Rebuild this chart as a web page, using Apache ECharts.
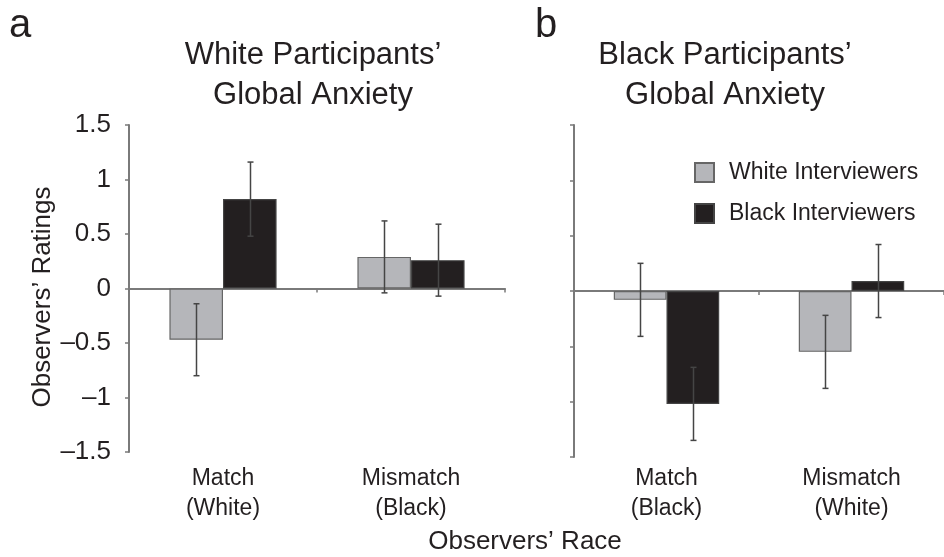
<!DOCTYPE html>
<html>
<head>
<meta charset="utf-8">
<script src="https://cdn.jsdelivr.net/npm/echarts@6/dist/echarts.min.js"></script>
<style>
  html, body { margin: 0; padding: 0; background: #ffffff; }
  #chart { width: 944px; height: 557px; }
</style>
</head>
<body>
<div id="chart"></div>
<script>
// ---- data ----
const categoriesA = ['Match\n(White)', 'Mismatch\n(Black)'];
const categoriesB = ['Match\n(Black)', 'Mismatch\n(White)'];
const seriesNames = ['White Interviewers', 'Black Interviewers'];
const whiteA = [-0.47, 0.29];
const blackA = [0.82, 0.26];
const errWhiteA = [0.33, 0.33];
const errBlackA = [0.34, 0.33];
const whiteB = [-0.08, -0.55];
const blackB = [-1.02, 0.09];
const errWhiteB = [0.33, 0.33];
const errBlackB = [0.33, 0.33];
const yTicks = { min: -1.5, max: 1.5, interval: 0.5 };

const FONT = '"Liberation Sans", Arial, Helvetica, sans-serif';
const TXT = '#231f20';
const AXIS = '#7a7a7a';
const GREY = '#b5b6ba';
const BLACK = '#231f20';
const BAR_FRAC = 0.285;

function errData(vals, errs, side) {
  return vals.map((v, i) => [i, v - errs[i], v + errs[i], side]);
}

function renderErr(params, api) {
  const ci = api.value(0), lo = api.value(1), hi = api.value(2), side = api.value(3);
  const catW = api.size([1, 0])[0];
  const off = side * catW * BAR_FRAC / 2;
  const p1 = api.coord([ci, hi]);
  const p2 = api.coord([ci, lo]);
  const x = Math.round(p1[0] + off) + 0.5;
  const cap = 3;
  const st = { stroke: '#454545', lineWidth: 1.5 };
  return {
    type: 'group',
    children: [
      { type: 'line', shape: { x1: x, y1: p1[1], x2: x, y2: p2[1] }, style: st },
      { type: 'line', shape: { x1: x - cap, y1: p1[1], x2: x + cap, y2: p1[1] }, style: st },
      { type: 'line', shape: { x1: x - cap, y1: p2[1], x2: x + cap, y2: p2[1] }, style: st }
    ]
  };
}

function zeroXAxis(gridIndex, cats) {
  return {
    type: 'category', gridIndex: gridIndex, data: cats,
    axisLine: { show: true, onZero: true, lineStyle: { color: AXIS, width: 2 } },
    axisTick: { show: true, length: 4, lineStyle: { color: AXIS, width: 1.5 } },
    axisLabel: { show: false },
    splitLine: { show: false }
  };
}
function labelXAxis(gridIndex, cats, margin) {
  return {
    type: 'category', gridIndex: gridIndex, data: cats, position: 'bottom',
    axisLine: { show: false, onZero: false },
    axisTick: { show: false },
    axisLabel: { show: true, margin: margin, fontSize: 23, lineHeight: 30, color: TXT, fontFamily: FONT, interval: 0 },
    splitLine: { show: false }
  };
}
function yAxisDef(gridIndex, showLabels) {
  return {
    type: 'value', gridIndex: gridIndex,
    min: yTicks.min, max: yTicks.max, interval: yTicks.interval,
    axisLine: { show: true, lineStyle: { color: AXIS, width: 2 } },
    axisTick: { show: true, length: 4, lineStyle: { color: AXIS, width: 1.5 } },
    axisLabel: {
      show: showLabels, margin: 18, fontSize: 26, color: TXT, fontFamily: FONT,
      formatter: v => (v < 0 ? '\u2013' + String(Math.abs(v)) : String(v))
    },
    splitLine: { show: false }
  };
}
function barSeries(name, data, xi, yi, color, border) {
  return {
    type: 'bar', name: name, data: data, xAxisIndex: xi, yAxisIndex: yi,
    barWidth: (BAR_FRAC * 100) + '%', barGap: '0%',
    itemStyle: { color: color, borderColor: border, borderWidth: 1.2 },
    emphasis: { disabled: true }, z: 2
  };
}
function errSeries(data, xi, yi) {
  return {
    type: 'custom', data: data, xAxisIndex: xi, yAxisIndex: yi,
    renderItem: renderErr, encode: { x: 0, y: [1, 2] }, z: 5, silent: true
  };
}

const chart = echarts.init(document.getElementById('chart'), null, { renderer: 'canvas' });
chart.setOption({
  animation: false,
  backgroundColor: '#ffffff',
  textStyle: { fontFamily: FONT },
  title: [
    { text: 'White Participants\u2019\nGlobal Anxiety', left: 313, top: 35, textAlign: 'center', padding: 0,
      textStyle: { fontSize: 31, lineHeight: 40, fontWeight: 'normal', color: TXT, fontFamily: FONT } },
    { text: 'Black Participants\u2019\nGlobal Anxiety', left: 725, top: 35, textAlign: 'center', padding: 0,
      textStyle: { fontSize: 31, lineHeight: 40, fontWeight: 'normal', color: TXT, fontFamily: FONT } }
  ],
  legend: {
    data: seriesNames, orient: 'vertical', left: 694, top: 161, padding: 0,
    itemWidth: 19, itemHeight: 19, itemGap: 18, icon: 'rect', selectedMode: false,
    textStyle: { fontSize: 23, color: TXT, fontFamily: FONT, padding: [0, 0, 0, 10] }
  },
  grid: [
    { left: 129, top: 125, width: 376, height: 327 },
    { left: 574, top: 125, width: 380, height: 332 }
  ],
  xAxis: [
    zeroXAxis(0, categoriesA),
    labelXAxis(0, categoriesA, 12),
    zeroXAxis(1, categoriesB),
    labelXAxis(1, categoriesB, 7)
  ],
  yAxis: [yAxisDef(0, true), yAxisDef(1, false)],
  series: [
    barSeries(seriesNames[0], whiteA, 0, 0, GREY, '#666666'),
    barSeries(seriesNames[1], blackA, 0, 0, BLACK, '#444444'),
    errSeries(errData(whiteA, errWhiteA, -1).concat(errData(blackA, errBlackA, 1)), 0, 0),
    barSeries(seriesNames[0], whiteB, 2, 1, GREY, '#666666'),
    barSeries(seriesNames[1], blackB, 2, 1, BLACK, '#444444'),
    errSeries(errData(whiteB, errWhiteB, -1).concat(errData(blackB, errBlackB, 1)), 2, 1)
  ],
  graphic: [
    { type: 'text', left: 9, top: 6, style: { text: 'a', fontSize: 40, fill: TXT, fontFamily: FONT } },
    { type: 'text', left: 535, top: 6, style: { text: 'b', fontSize: 40, fill: TXT, fontFamily: FONT } },
    { type: 'text', x: 43, y: 297, rotation: Math.PI / 2,
      style: { text: 'Observers\u2019 Ratings', fontSize: 26, fill: TXT, fontFamily: FONT, align: 'center', verticalAlign: 'middle' } },
    { type: 'text', x: 525, y: 542,
      style: { text: 'Observers\u2019 Race', fontSize: 26, fill: TXT, fontFamily: FONT, align: 'center', verticalAlign: 'middle' } }
  ]
});
</script>
</body>
</html>
